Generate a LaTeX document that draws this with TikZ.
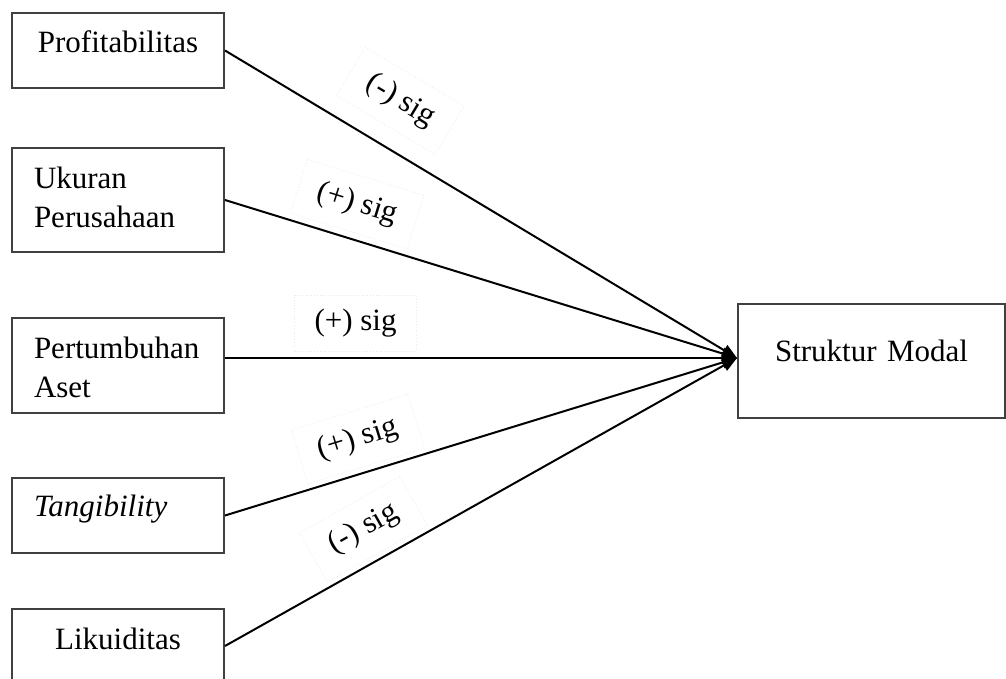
\documentclass[tikz,border=0pt]{standalone}
\usepackage{fontspec}
\setmainfont{Liberation Serif}
\usetikzlibrary{arrows.meta, positioning}

\begin{document}
\begin{tikzpicture}[
  font=\fontsize{15.5}{19.5}\selectfont,
  var/.style={rectangle, draw=black!75, line width=1pt, text width=84pt,
              inner xsep=11pt, inner ysep=0pt, align=left},
  dep/.style={rectangle, draw=black!75, line width=1pt, text width=111.5pt,
              inner xsep=11pt, inner ysep=0pt, align=center},
  sig/.style={sloped, draw=black!8, densely dotted, thin,
              inner xsep=10pt, inner ysep=7pt},
  arr/.style={-{Triangle[length=7.5pt, width=6pt]}, line width=1pt}]
  \useasboundingbox (0,0) rectangle (503pt,-339.5pt);
  \node[var, align=center, text height=20pt, text depth=17.5pt,
        anchor=north west] (prof) at (5.5pt,-6pt) {Profitabilitas};
  \node[var, text height=20.5pt, text depth=31.5pt, below=29pt of prof] (size) {Ukuran\\Perusahaan};
  \node[var, text height=20pt, text depth=27.5pt, below=32pt of size] (grow) {Pertumbuhan\\Aset};
  \node[var, text height=19pt, text depth=18.5pt, below=31.5pt of grow] (tang) {\textit{Tangibility}};
  \node[var, align=center, text height=20pt, text depth=17pt, below=27pt of tang] (liq) {Likuiditas};
  \node[dep, text height=28.5pt, text depth=28.5pt,
        anchor=north west] (sm) at (368.5pt,-151.5pt) {Struktur Modal};
  \draw[arr] (prof.east) -- node[sig, pos=0.295, yshift=23.5pt] {(-) sig} ([yshift=1.5pt]sm.west);
  \draw[arr] (size.east) -- node[sig, pos=0.238, yshift=17.5pt] {(+) sig} ([yshift=1.5pt]sm.west);
  \draw[arr] ([yshift=3.75pt]grow.east) -- node[sig, pos=0.255, yshift=17.5pt] {(+) sig} ([yshift=1.5pt]sm.west);
  \draw[arr] (tang.east) -- node[sig, pos=0.279, yshift=17pt] {(+) sig} ([yshift=1.5pt]sm.west);
  \draw[arr] (liq.east) -- node[sig, pos=0.303, yshift=17pt] {(-) sig} ([yshift=1.5pt]sm.west);
\end{tikzpicture}
\end{document}
